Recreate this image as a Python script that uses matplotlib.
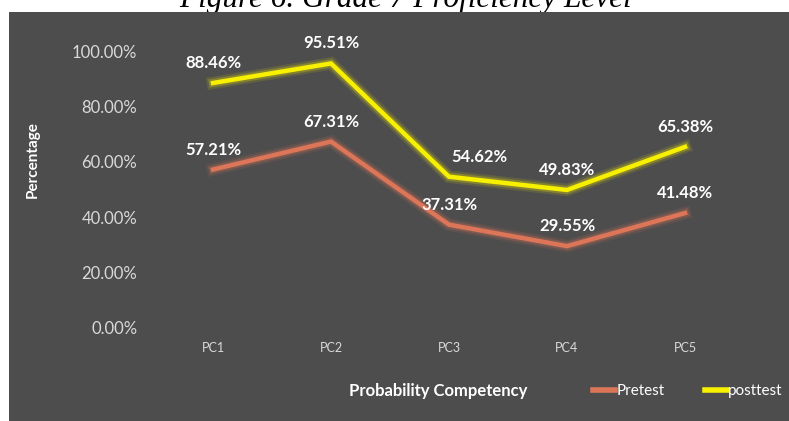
import matplotlib
matplotlib.use("Agg")
import matplotlib.pyplot as plt
import matplotlib.patheffects as pe
from matplotlib.patches import Rectangle
from matplotlib.ticker import PercentFormatter

# donnees
categories = ["PC1", "PC2", "PC3", "PC4", "PC5"]
pretest = [57.21, 67.31, 37.31, 29.55, 41.48]
posttest = [88.46, 95.51, 54.62, 49.83, 65.38]

BG = "#4d4d4d"
C_PRE = "#dd7558"
C_POST = "#f7f000"
TXT = "#d9d9d9"

plt.rcParams["font.family"] = ["Lato", "DejaVu Sans"]

W, H = 789, 421
fig = plt.figure(figsize=(W / 100, H / 100), dpi=100)
fig.patch.set_facecolor("white")

# titre coupe en haut de l'image
fig.text(405 / W, 1 - 7 / H, "Figure 6. Grade 7 Proficiency Level",
         family="Liberation Serif", style="italic", fontsize=22.5,
         ha="center", va="baseline", color="black", zorder=-2)
# fond sombre du graphique
fig.patches.append(Rectangle((9 / W, 0), 1 - 9 / W, 1 - 12 / H,
                             transform=fig.transFigure, facecolor=BG,
                             edgecolor="none", zorder=-1))

# zone de trace (coordonnees en pixels)
left, right, bottom, top = 154, 744, 328, 51
ax = fig.add_axes([left / W, 1 - bottom / H, (right - left) / W, (bottom - top) / H])
ax.patch.set_alpha(0)
for s in ax.spines.values():
    s.set_visible(False)

x = list(range(len(categories)))

def glow(c):
    return [pe.Stroke(linewidth=9, foreground=c, alpha=0.12),
            pe.Stroke(linewidth=6, foreground=c, alpha=0.25),
            pe.Normal()]

ax.plot(x, pretest, color=C_PRE, lw=3.2, solid_joinstyle="miter",
        path_effects=glow(C_PRE), label="Pretest")
ax.plot(x, posttest, color=C_POST, lw=3.2, solid_joinstyle="miter",
        path_effects=glow(C_POST), label="posttest")

# etiquettes de valeurs
dx_post = [0, 0, 30, 0, 0]
for i in x:
    ax.annotate(f"{pretest[i]:.2f}%", (i, pretest[i]), xytext=(0, 12),
                textcoords="offset pixels", ha="center", va="bottom",
                color="white", fontsize=12, fontweight="bold")
    ax.annotate(f"{posttest[i]:.2f}%", (i, posttest[i]), xytext=(dx_post[i], 12),
                textcoords="offset pixels", ha="center", va="bottom",
                color="white", fontsize=12, fontweight="bold")

ax.set_xlim(-0.5, 4.5)
ax.set_ylim(0, 100)
ax.set_yticks([0, 20, 40, 60, 80, 100])
ax.yaxis.set_major_formatter(PercentFormatter(100, decimals=2))
ax.set_xticks(x)
ax.set_xticklabels(categories)
ax.tick_params(axis="y", length=0, pad=12, labelsize=12, labelcolor=TXT)
ax.tick_params(axis="x", length=0, pad=10, labelsize=9, labelcolor=TXT)

fig.text(33 / W, 1 - 160 / H, "Percentage", rotation=90, ha="center", va="center",
         color="white", fontsize=11, fontweight="bold")
fig.text(438 / W, 1 - 391 / H, "Probability Competency", ha="center", va="center",
         color="white", fontsize=12, fontweight="bold")

leg = ax.legend(loc="center left", bbox_to_anchor=(593 / W, 1 - 391 / H),
                bbox_transform=fig.transFigure, ncol=2, frameon=False,
                fontsize=11, handlelength=1.45, handletextpad=0.1,
                columnspacing=2.6, borderpad=0, borderaxespad=0)
for t in leg.get_texts():
    t.set_color("white")
for h in leg.get_lines():
    h.set_linewidth(4)
    h.set_path_effects([])

fig.savefig("out.png", dpi=100, facecolor=fig.get_facecolor())
